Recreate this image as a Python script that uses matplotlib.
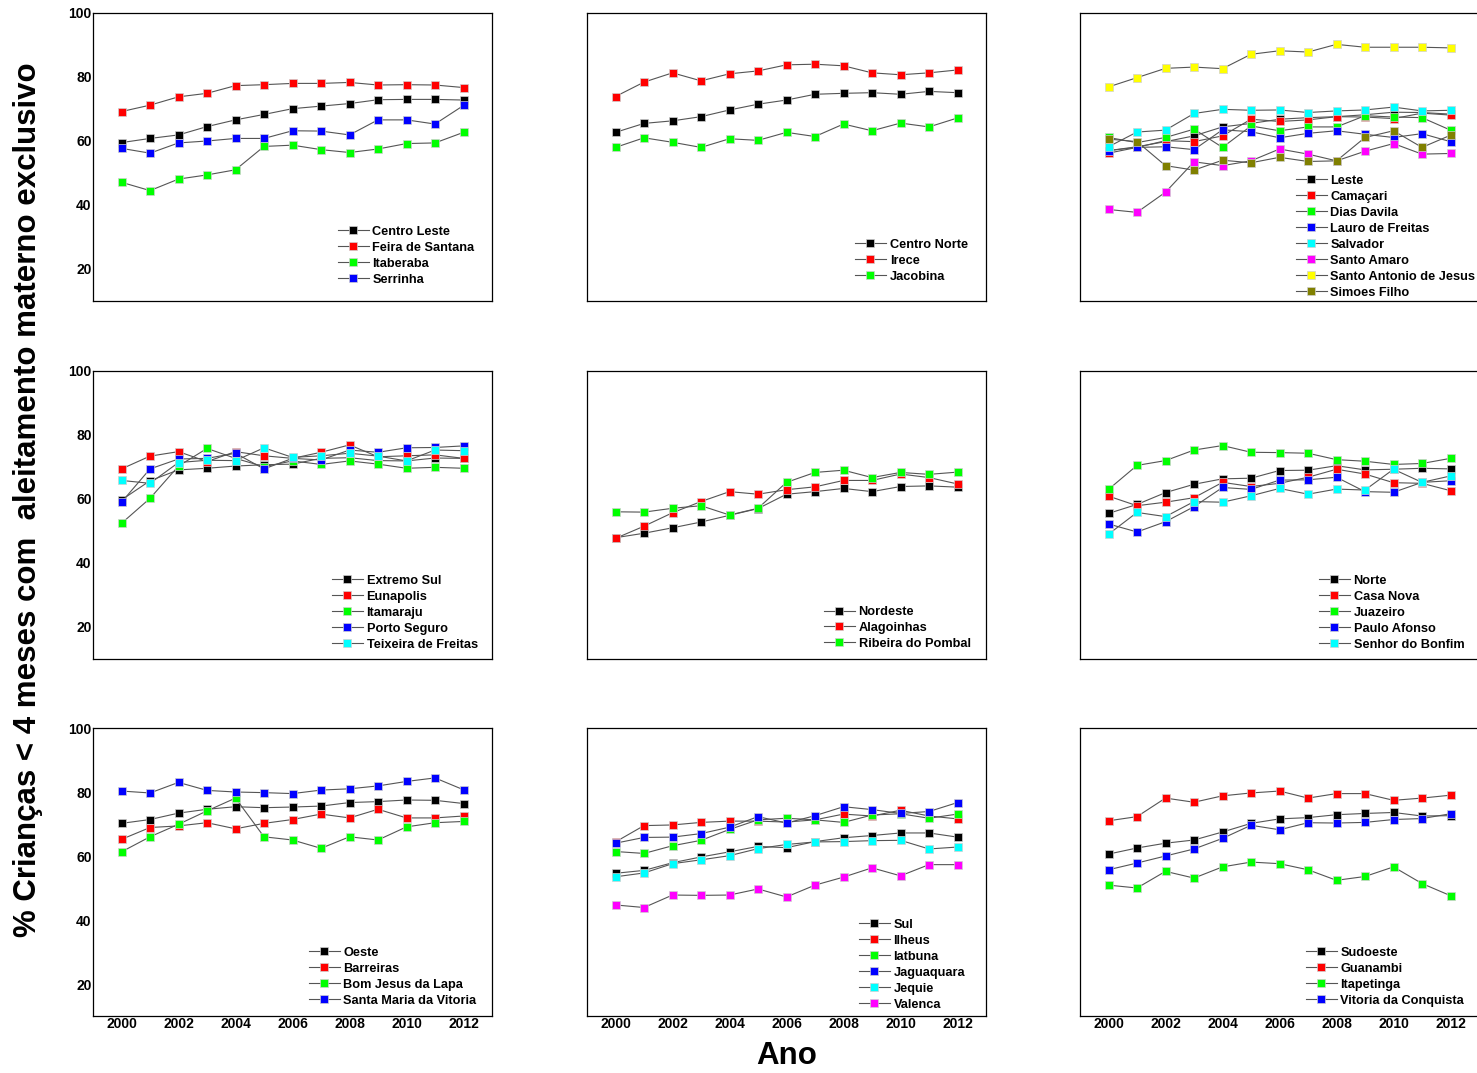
import matplotlib
matplotlib.use("Agg")
import matplotlib.pyplot as plt

years = list(range(2000, 2013))
yticks = [20, 40, 60, 80, 100]
xticks = [2000, 2002, 2004, 2006, 2008, 2010, 2012]

# Panel 1
centro_leste = [59.5, 60.8, 61.9, 64.5, 66.6, 68.3, 70.1, 70.9, 71.7, 72.9, 73.0, 73.0, 72.8]
feira_de_santana = [69.2, 71.2, 73.8, 74.9, 77.3, 77.6, 78.0, 78.0, 78.3, 77.5, 77.6, 77.5, 76.7]
itaberaba = [47.1, 44.5, 48.1, 49.4, 51.0, 58.3, 58.7, 57.3, 56.4, 57.5, 59.2, 59.4, 62.7]
serrinha = [57.7, 56.2, 59.4, 60.0, 60.8, 60.8, 63.2, 63.1, 61.9, 66.6, 66.6, 65.3, 71.1]
# Panel 2
centro_norte = [62.7, 65.5, 66.3, 67.6, 69.7, 71.5, 72.8, 74.6, 74.9, 75.1, 74.6, 75.5, 75.1]
irece = [73.9, 78.4, 81.3, 78.8, 81.0, 81.9, 83.8, 84.0, 83.5, 81.3, 80.7, 81.3, 82.2]
jacobina = [58.0, 61.0, 59.6, 58.0, 60.7, 60.2, 62.7, 61.4, 65.3, 63.2, 65.6, 64.4, 67.2]
# Panel 3
leste = [57.0, 58.2, 59.8, 61.6, 64.4, 65.5, 66.8, 67.3, 67.6, 68.2, 69.0, 68.9, 68.4]
camacari = [56.2, 58.0, 60.1, 59.8, 61.6, 66.8, 66.1, 66.6, 67.6, 67.5, 67.0, 68.7, 68.1]
dias_davila = [61.1, 59.5, 61.1, 63.7, 58.0, 64.7, 63.2, 64.4, 64.4, 67.9, 67.5, 67.3, 63.4]
lauro_de_freitas = [57.0, 58.0, 58.2, 57.3, 63.5, 62.9, 61.0, 62.4, 63.2, 62.1, 61.1, 62.3, 59.8]
salvador = [58.2, 62.8, 63.4, 68.6, 69.9, 69.6, 69.7, 68.9, 69.4, 69.7, 70.6, 69.4, 69.6]
santo_amaro = [38.6, 37.7, 44.0, 53.5, 52.3, 53.8, 57.5, 55.9, 53.8, 56.8, 59.2, 55.9, 56.1]
santo_antonio_de_jesus = [76.9, 79.8, 82.7, 83.1, 82.6, 87.1, 88.2, 87.8, 90.2, 89.3, 89.3, 89.3, 89.1]
simoes_filho = [60.6, 59.8, 52.3, 50.9, 54.0, 53.2, 54.9, 53.6, 53.8, 61.1, 63.2, 58.0, 61.8]
# Panel 4
extremo_sul = [59.7, 65.7, 69.1, 69.6, 70.3, 70.7, 70.9, 72.7, 72.9, 72.0, 71.9, 72.8, 72.7]
eunapolis = [69.4, 73.4, 74.8, 71.7, 74.8, 73.5, 72.7, 74.6, 76.9, 73.2, 73.5, 73.8, 72.7]
itamaraju = [52.4, 60.2, 70.3, 75.8, 72.7, 70.1, 71.9, 70.8, 71.9, 70.9, 69.6, 69.9, 69.6]
porto_seguro = [59.0, 69.4, 72.5, 72.7, 74.3, 69.4, 72.7, 72.2, 75.3, 74.6, 76.0, 76.1, 76.6]
teixeira_de_freitas = [65.8, 64.9, 71.4, 72.1, 72.0, 76.0, 73.0, 73.5, 74.3, 73.4, 71.9, 75.3, 75.1]
# Panel 5
nordeste = [47.9, 49.3, 51.0, 52.8, 54.9, 57.0, 61.5, 62.3, 63.3, 62.3, 63.9, 64.1, 63.7]
alagoinhas = [47.7, 51.5, 55.7, 59.2, 62.3, 61.5, 62.9, 63.8, 65.8, 65.8, 67.8, 66.7, 64.7]
ribeira_do_pombal = [56.0, 55.9, 57.1, 57.9, 55.0, 57.1, 65.2, 68.3, 69.0, 66.7, 68.3, 67.7, 68.4]
# Panel 6
norte = [55.5, 58.3, 62.0, 64.6, 66.3, 66.5, 68.9, 69.0, 70.4, 69.1, 69.3, 69.6, 69.4]
casa_nova = [60.9, 57.9, 59.0, 60.4, 65.2, 63.9, 64.9, 66.8, 69.3, 67.8, 65.1, 64.9, 62.6]
juazeiro = [63.0, 70.5, 72.0, 75.3, 76.7, 74.6, 74.5, 74.3, 72.3, 71.8, 70.8, 71.1, 72.7]
paulo_afonso = [52.2, 49.7, 52.9, 57.6, 63.6, 63.0, 65.9, 66.0, 66.8, 62.3, 62.1, 65.2, 65.7]
senhor_do_bonfim = [49.0, 55.8, 54.5, 59.2, 59.0, 61.0, 63.3, 61.5, 63.1, 62.8, 69.3, 65.2, 67.2]
# Panel 7
oeste = [70.2, 71.4, 73.4, 74.6, 75.4, 75.1, 75.3, 75.6, 76.7, 77.0, 77.5, 77.4, 76.4]
barreiras = [65.2, 68.9, 69.4, 70.4, 68.5, 70.2, 71.4, 73.1, 71.9, 74.6, 71.9, 71.9, 72.5]
bom_jesus_da_lapa = [61.3, 66.0, 69.9, 74.1, 78.1, 66.0, 65.0, 62.4, 66.0, 65.0, 69.1, 70.4, 70.8]
santa_maria_da_vitoria = [80.3, 79.7, 83.0, 80.5, 80.0, 79.8, 79.5, 80.6, 81.0, 81.9, 83.3, 84.4, 80.7]
# Panel 8
sul = [54.6, 55.5, 57.9, 59.7, 61.3, 63.0, 62.6, 64.5, 65.7, 66.4, 67.2, 67.2, 65.9]
ilheus = [64.4, 69.5, 69.7, 70.5, 70.9, 70.9, 70.6, 71.3, 73.1, 72.5, 74.3, 72.5, 71.6]
iatbuna = [61.4, 60.8, 63.2, 64.9, 68.3, 71.3, 71.8, 71.3, 70.5, 72.8, 73.2, 71.8, 73.1]
jaguaquara = [64.0, 65.8, 65.9, 67.0, 69.0, 72.3, 70.3, 72.6, 75.4, 74.5, 73.3, 73.9, 76.7]
jequie = [53.5, 54.7, 57.6, 58.8, 60.1, 62.3, 63.6, 64.4, 64.5, 64.8, 64.9, 62.2, 62.8]
valenca = [44.7, 43.9, 47.8, 47.7, 47.8, 49.7, 47.2, 50.9, 53.4, 56.3, 53.8, 57.3, 57.3]
# Panel 9
sudoeste = [60.6, 62.5, 64.0, 65.0, 67.5, 70.2, 71.6, 72.0, 72.9, 73.3, 73.6, 72.5, 72.6]
guanambi = [71.0, 72.3, 78.1, 76.8, 78.8, 79.7, 80.3, 78.1, 79.5, 79.5, 77.4, 78.1, 79.0]
itapetinga = [50.9, 50.0, 55.2, 53.1, 56.6, 58.1, 57.6, 55.7, 52.4, 53.6, 56.6, 51.4, 47.6]
vitoria_da_conquista = [55.7, 57.8, 60.0, 62.2, 65.5, 69.6, 68.2, 70.4, 70.3, 70.5, 71.4, 71.7, 73.2]

palette = ["#000000", "#ff0000", "#00ff00", "#0000ff", "#00ffff", "#ff00ff", "#ffff00", "#808000"]

panels = [
    [("Centro Leste", centro_leste), ("Feira de Santana", feira_de_santana),
     ("Itaberaba", itaberaba), ("Serrinha", serrinha)],
    [("Centro Norte", centro_norte), ("Irece", irece), ("Jacobina", jacobina)],
    [("Leste", leste), ("Camaçari", camacari), ("Dias Davila", dias_davila),
     ("Lauro de Freitas", lauro_de_freitas), ("Salvador", salvador),
     ("Santo Amaro", santo_amaro), ("Santo Antonio de Jesus", santo_antonio_de_jesus),
     ("Simoes Filho", simoes_filho)],
    [("Extremo Sul", extremo_sul), ("Eunapolis", eunapolis), ("Itamaraju", itamaraju),
     ("Porto Seguro", porto_seguro), ("Teixeira de Freitas", teixeira_de_freitas)],
    [("Nordeste", nordeste), ("Alagoinhas", alagoinhas), ("Ribeira do Pombal", ribeira_do_pombal)],
    [("Norte", norte), ("Casa Nova", casa_nova), ("Juazeiro", juazeiro),
     ("Paulo Afonso", paulo_afonso), ("Senhor do Bonfim", senhor_do_bonfim)],
    [("Oeste", oeste), ("Barreiras", barreiras), ("Bom Jesus da Lapa", bom_jesus_da_lapa),
     ("Santa Maria da Vitoria", santa_maria_da_vitoria)],
    [("Sul", sul), ("Ilheus", ilheus), ("Iatbuna", iatbuna), ("Jaguaquara", jaguaquara),
     ("Jequie", jequie), ("Valenca", valenca)],
    [("Sudoeste", sudoeste), ("Guanambi", guanambi), ("Itapetinga", itapetinga),
     ("Vitoria da Conquista", vitoria_da_conquista)],
]

# legend upper-left anchor (axes fraction)
legend_anchor = [(0.614, 0.261), (0.672, 0.216), (0.541, 0.438),
                 (0.599, 0.292), (0.594, 0.184), (0.599, 0.292),
                 (0.541, 0.240), (0.682, 0.337), (0.566, 0.240)]

plt.rcParams['font.family'] = ['Liberation Sans', 'DejaVu Sans']
plt.rcParams['font.weight'] = 'bold'

W, H = 1477, 1073
fig = plt.figure(figsize=(W / 100, H / 100), dpi=100)
col_left = [93, 587, 1080]
row_top = [13, 371, 728]
aw, ah = 399, 288

for i, series in enumerate(panels):
    r, c = divmod(i, 3)
    ax = fig.add_axes([col_left[c] / W, 1 - (row_top[r] + ah) / H, aw / W, ah / H])
    for k, (name, vals) in enumerate(series):
        ax.plot(years, vals, color="#555555", lw=0.8, marker="s", ms=5.5,
                mfc=palette[k], mec="#d0d0d0", mew=0.5, label=name, zorder=2 + k)
    ax.set_xlim(1999, 2013)
    ax.set_ylim(10, 100)
    ax.set_xticks(xticks)
    ax.set_yticks(yticks)
    ax.tick_params(length=0, labelsize=10, pad=1)
    if c != 0:
        ax.set_yticklabels([])
    if r != 2:
        ax.set_xticklabels([])
    for sp in ax.spines.values():
        sp.set_linewidth(0.9)
    ax.legend(loc="upper left", bbox_to_anchor=legend_anchor[i], frameon=False,
              borderpad=0, borderaxespad=0, handlelength=2.4,
              handletextpad=0.3, labelspacing=0.31,
              prop={'weight': 'bold', 'size': 9.2})

fig.text(28 / W, 1 - 500 / H, "% Crianças < 4 meses com  aleitamento materno exclusivo",
         rotation=90, ha="center", va="center", fontsize=22.5, fontweight="bold")
fig.text(787 / W, 1 - 1056 / H, "Ano", ha="center", va="center", fontsize=22.5, fontweight="bold")

fig.savefig("out.png", dpi=100)
